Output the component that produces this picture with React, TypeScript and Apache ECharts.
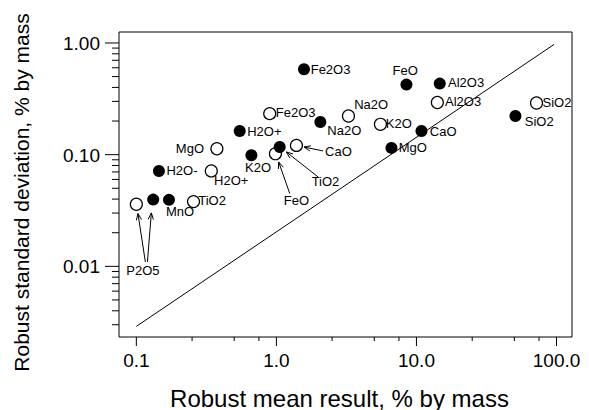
import React, { useEffect, useRef } from 'react';
import * as echarts from 'echarts';

// ---- Data ----
const filledNames = ['P2O5', 'MnO', 'H2O-', 'H2O+', 'K2O', 'TiO2', 'Fe2O3', 'Na2O', 'MgO', 'FeO', 'CaO', 'Al2O3', 'SiO2'];
const filledMean = [0.132, 0.171, 0.145, 0.547, 0.663, 1.056, 1.574, 2.06, 6.63, 8.48, 10.86, 14.67, 50.9];
const filledSD = [0.0396, 0.0394, 0.0715, 0.163, 0.0988, 0.117, 0.582, 0.196, 0.115, 0.424, 0.163, 0.433, 0.222];

const openNames = ['P2O5', 'TiO2', 'H2O+', 'MgO', 'Fe2O3', 'FeO', 'CaO', 'Na2O', 'K2O', 'Al2O3', 'SiO2'];
const openMean = [0.1, 0.256, 0.343, 0.376, 0.896, 0.984, 1.39, 3.27, 5.53, 14.1, 72];
const openSD = [0.036, 0.038, 0.0715, 0.113, 0.233, 0.102, 0.121, 0.222, 0.187, 0.293, 0.29];

// reference line end points
const refLineX = [0.1, 96];
const refLineY = [0.0029, 0.97];

// arrows (tail at label, head at point)
const arrowTailX = [2.153, 1.982, 1.245, 0.116, 0.12];
const arrowTailY = [0.108, 0.0632, 0.0449, 0.01094, 0.01094];
const arrowHeadX = [1.574, 1.178, 1.038, 0.1027, 0.128];
const arrowHeadY = [0.117, 0.1057, 0.086, 0.0297, 0.0301];
const arrowLabels = ['CaO', 'TiO2', 'FeO', 'P2O5', ''];

// axes
const X_MIN = 0.0752;
const X_MAX = 129;
const Y_MIN = 0.00233;
const Y_MAX = 1.254;
const xMajorTicks = [0.1, 1, 10, 100];
const xMinorTicks = [0.25, 0.5, 0.75, 2.5, 5, 7.5, 25, 50, 75];
const yMajorTicks = [0.01, 0.1, 1];
const yMinorTicks = [
  0.003, 0.004, 0.005, 0.006, 0.007, 0.008, 0.009,
  0.02, 0.03, 0.04, 0.05, 0.06, 0.07, 0.08, 0.09,
  0.2, 0.3, 0.4, 0.5, 0.6, 0.7, 0.8, 0.9,
];

// ---- Styling: label placement (dx, dy, align) relative to marker centre ----
const filledLabelPlace: ([number, number, string] | null)[] = [
  null, [11, 11.5, 'center'], [7.5, 0, 'left'], [7.5, 0.3, 'left'], [6.6, 12.3, 'center'], null,
  [6.7, 0, 'left'], [7, 8.3, 'left'], [7.3, 0, 'left'], [-1.2, -14.3, 'center'], [8.3, 0.3, 'left'],
  [8.3, -1, 'left'], [9.3, 5.3, 'left'],
];
const openLabelPlace: ([number, number, string] | null)[] = [
  null, [5.3, 0, 'left'], [3.3, 10, 'left'], [-12.3, 0, 'right'], [6.7, -0.6, 'left'], null, null,
  [6.3, -10.7, 'left'], [6, 0, 'left'], [8.3, 0, 'left'], [6.6, 0, 'left'],
];
const arrowLabelPlace: ([number, number, string] | null)[] = [
  [2, 1, 'left'], [7.5, 5, 'center'], [6.7, 7.4, 'center'], [-2.4, 8.3, 'center'], null,
];

const FONT = '"Liberation Sans", Arial, sans-serif';
const SYMBOL = 12;

function makePoints(
  names: string[],
  xs: number[],
  ys: number[],
  places: ([number, number, string] | null)[],
  size: number,
) {
  return names.map((n, i) => {
    const pl = places[i];
    return {
      name: n,
      value: [xs[i], ys[i]],
      label: pl && n
        ? {
            show: true,
            formatter: n,
            position: [size / 2 + pl[0], size / 2 + pl[1]],
            align: pl[2],
            verticalAlign: 'middle',
            color: '#000',
            opacity: 1,
            fontSize: 13,
            fontFamily: FONT,
          }
        : { show: false },
    };
  });
}

export default function App() {
  const ref = useRef<HTMLDivElement>(null);

  useEffect(() => {
    if (!ref.current) return;
    const chart = echarts.init(ref.current, null, { renderer: 'svg' });

    const tickData = [
      ...xMajorTicks.map((v) => [v, Y_MIN, 0]),
      ...xMinorTicks.map((v) => [v, Y_MIN, 1]),
      ...yMajorTicks.map((v) => [X_MIN, v, 2]),
      ...yMinorTicks.map((v) => [X_MIN, v, 3]),
    ];
    const arrowData = arrowTailX.map((_, i) => [arrowTailX[i], arrowTailY[i], arrowHeadX[i], arrowHeadY[i], i]);

    const textStyle = (text: string, size: number, align: string) => ({
      text,
      font: `${size}px ${FONT}`,
      fill: '#000',
      align,
      verticalAlign: 'middle',
    });

    const option: any = {
      animation: false,
      backgroundColor: '#fff',
      grid: {
        left: 119,
        right: 17,
        top: 32,
        bottom: 73,
        show: true,
        borderColor: '#000',
        borderWidth: 1,
        backgroundColor: 'transparent',
      },
      xAxis: {
        type: 'log',
        logBase: 10,
        min: X_MIN,
        max: X_MAX,
        axisLine: { show: false },
        axisTick: { show: false },
        axisLabel: { show: false },
        splitLine: { show: false },
      },
      yAxis: {
        type: 'log',
        logBase: 10,
        min: Y_MIN,
        max: Y_MAX,
        axisLine: { show: false },
        axisTick: { show: false },
        axisLabel: { show: false },
        splitLine: { show: false },
      },
      graphic: [
        {
          type: 'text',
          x: 339.5,
          y: 398,
          style: textStyle('Robust mean result, % by mass', 24, 'center'),
        },
        {
          type: 'text',
          x: 21,
          y: 192.5,
          rotation: Math.PI / 2,
          style: textStyle('Robust standard deviation, % by mass', 21, 'center'),
        },
      ],
      series: [
        {
          type: 'line',
          data: refLineX.map((x, i) => [x, refLineY[i]]),
          showSymbol: false,
          symbol: 'none',
          lineStyle: { color: '#000', width: 1, opacity: 1 },
          silent: true,
          z: 1,
        },
        {
          type: 'scatter',
          data: makePoints(openNames, openMean, openSD, openLabelPlace, SYMBOL),
          symbol: 'circle',
          symbolSize: SYMBOL,
          itemStyle: { color: '#fff', borderColor: '#000', borderWidth: 1.2, opacity: 1 },
          z: 3,
        },
        {
          type: 'scatter',
          data: makePoints(filledNames, filledMean, filledSD, filledLabelPlace, SYMBOL),
          symbol: 'circle',
          symbolSize: SYMBOL,
          itemStyle: { color: '#000', borderColor: '#000', borderWidth: 0, opacity: 1 },
          z: 4,
        },
        {
          // labels at the arrow tails
          type: 'scatter',
          data: makePoints(arrowLabels, arrowTailX, arrowTailY, arrowLabelPlace, 2),
          symbol: 'circle',
          symbolSize: 2,
          itemStyle: { color: 'rgba(0,0,0,0)', opacity: 1 },
          silent: true,
          z: 5,
        },
        {
          type: 'custom',
          clip: false,
          silent: true,
          z: 5,
          encode: { x: 0, y: 1 },
          data: arrowData,
          renderItem: (params: any, api: any) => {
            const a = api.coord([api.value(0), api.value(1)]);
            const b = api.coord([api.value(2), api.value(3)]);
            const ang = Math.atan2(b[1] - a[1], b[0] - a[0]);
            const L = 7;
            const w = 0.38;
            const h1 = [b[0] - L * Math.cos(ang - w), b[1] - L * Math.sin(ang - w)];
            const h2 = [b[0] - L * Math.cos(ang + w), b[1] - L * Math.sin(ang + w)];
            return {
              type: 'group',
              children: [
                { type: 'line', shape: { x1: a[0], y1: a[1], x2: b[0], y2: b[1] }, style: { stroke: '#000', lineWidth: 1 } },
                { type: 'polyline', shape: { points: [h1, b, h2] }, style: { stroke: '#000', lineWidth: 1, fill: null } },
              ],
            };
          },
        },
        {
          type: 'custom',
          clip: false,
          silent: true,
          z: 6,
          encode: { x: 0, y: 1 },
          data: tickData,
          renderItem: (params: any, api: any) => {
            const p = api.coord([api.value(0), api.value(1)]);
            const kind = api.value(2);
            const children: any[] = [];
            if (kind === 0 || kind === 1) {
              const len = kind === 0 ? 9 : 4;
              children.push({
                type: 'line',
                shape: { x1: p[0], y1: p[1], x2: p[0], y2: p[1] + len },
                style: { stroke: '#000', lineWidth: 1 },
              });
              if (kind === 0) {
                children.push({
                  type: 'text',
                  x: p[0],
                  y: p[1] + 23.5,
                  style: textStyle(Number(api.value(0)).toFixed(1), 19, 'center'),
                });
              }
            } else {
              const len = kind === 2 ? 14 : 7;
              children.push({
                type: 'line',
                shape: { x1: p[0] - len, y1: p[1], x2: p[0], y2: p[1] },
                style: { stroke: '#000', lineWidth: 1 },
              });
              if (kind === 2) {
                children.push({
                  type: 'text',
                  x: p[0] - 19,
                  y: p[1] + 0.5,
                  style: textStyle(Number(api.value(1)).toFixed(2), 19, 'right'),
                });
              }
            }
            return { type: 'group', children };
          },
        },
      ],
    };

    chart.setOption(option);
    return () => chart.dispose();
  }, []);

  return (
    <div
      ref={ref}
      style={{ position: 'fixed', left: 0, top: 0, width: 589, height: 410, background: '#fff' }}
    />
  );
}
